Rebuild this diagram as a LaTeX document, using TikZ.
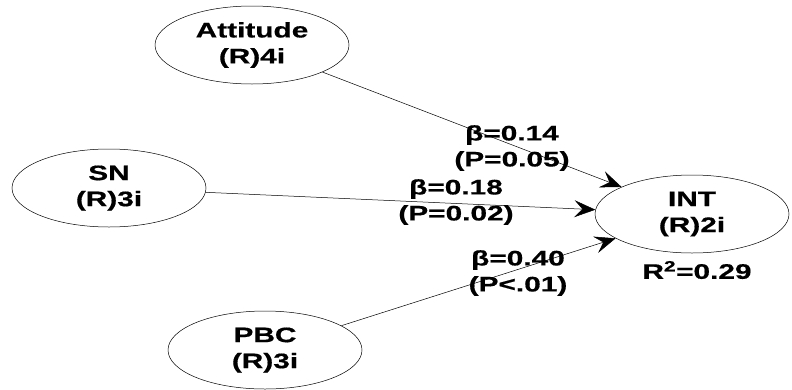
\documentclass[tikz,border=0pt]{standalone}
\usepackage{fontspec}
\setmainfont{Liberation Sans}[FakeStretch=1.42, FakeBold=0.6]
\usetikzlibrary{arrows.meta, shapes.geometric}

\begin{document}
\begin{tikzpicture}[
    x=1pt, y=-1pt,
    every node/.style={align=center, font=\fontsize{21}{26}\selectfont\bfseries},
    construct/.style={draw, ellipse, line width=0.5pt, inner sep=0pt,
      minimum width=194pt, minimum height=78pt},
    arrow/.style={-{Stealth[length=21pt, width=17pt, inset=8pt]}, line width=0.5pt}
  ]
  \useasboundingbox (0,0) rectangle (792,389);

  % Constructs
  \node[construct] (att) at (252,45) {Attitude\\(R)4i};
  \node[construct] (sn) at (109,188) {SN\\(R)3i};
  \node[construct] (pbc) at (265,350) {PBC\\(R)3i};
  \node[construct] (int) at (692,214) {INT\\(R)2i};
  \node (rsq) at (697,270) {R\textsuperscript{2}=0.29};

  % Arrows
  \draw[arrow] (att) -- (int);
  \draw[arrow] (sn) -- (int);
  \draw[arrow] (pbc) -- (int);

  % Path coefficients
  \node (c1) at (512,148) {β=0.14\\(P=0.05)};
  \node (c2) at (456,202) {β=0.18\\(P=0.02)};
  \node (c3) at (518,273) {β=0.40\\(P<.01)};
\end{tikzpicture}
\end{document}
